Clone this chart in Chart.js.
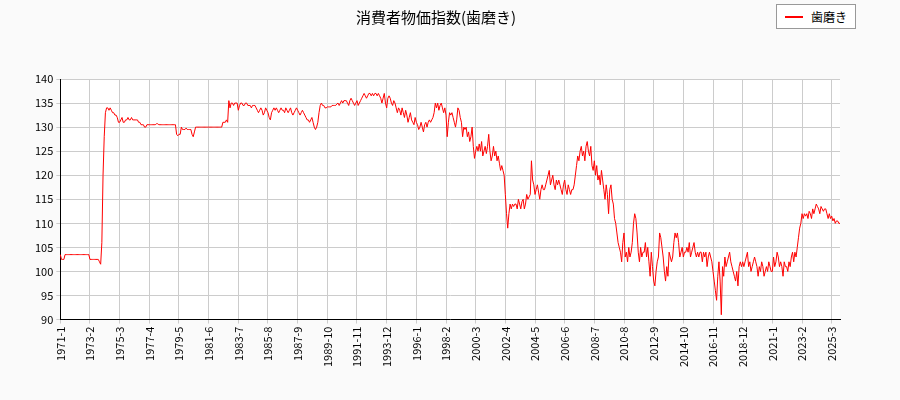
<!DOCTYPE html>
<html>
<head>
<meta charset="utf-8">
<script src="https://cdn.jsdelivr.net/npm/chart.js@4"></script>
<style>
  body { margin: 0; background: #fafafa; font-family: "Noto Sans CJK JP", "DejaVu Sans", sans-serif; }
  #wrap { position: relative; width: 900px; height: 400px; }
  #legend { position: absolute; top: 4px; right: 44px; border: 1px solid #999; background: #fff;
            font-size: 12px; padding: 3px 8px; display: flex; align-items: center; }
  #legend span.line { display: inline-block; width: 18px; height: 2px; background: red; margin-right: 8px; }
</style>
</head>
<body>
<div id="wrap">
  <canvas id="chart" width="900" height="400"></canvas>
  <div id="legend"><span class="line"></span>歯磨き</div>
</div>
<script>
const startYear = 1971;
const seriesName = '歯磨き';
const yTicks = [90, 95, 100, 105, 110, 115, 120, 125, 130, 135, 140];
// monthly index values, 1971-1 onwards
const toothpaste = [
  103.5,102.5,102.5,102.5,103.5,103.5,103.5,103.5,103.5,103.5,103.5,103.5,
  103.5,103.5,103.5,103.5,103.5,103.5,103.5,103.5,103.5,103.5,103.5,103.5,
  103.5,102.5,102.5,102.5,102.5,102.5,102.5,102.5,102.5,102,101.5,106,
  120,128,133,134,134,133.5,134,133.5,133,133,132.5,132.5,
  132,131,131,131.5,132,131,131,131.5,131.5,132,131.5,131.5,
  132,131.5,131.5,131.5,131.5,131.5,131,131,130.5,130.5,130.5,130,
  130,130.5,130.5,130.5,130.5,130.5,130.5,130.5,130.5,130.7,130.7,130.5,
  130.5,130.5,130.5,130.5,130.5,130.5,130.5,130.5,130.5,130.5,130.5,130.5,
  130.5,130.5,128.5,128.2,128.5,128.5,130,129.5,129.5,129.5,129.8,129.5,
  129.5,129.5,129.5,128.5,128,129,130,130,130,130,130,130,
  130,130,130,130,130,130,130,130,130,130,130,130,
  130,130,130,130,130,131,131,131,131.5,131,135.5,134,
  135,135,134.5,135,135,135,133.5,134.5,135,135,134.5,134.5,
  135,135,134.5,134.5,134.5,134,134.5,134.5,134.5,134,133.5,133,
  133.5,134,133.5,132.5,133,134,133.5,133,132,131.5,133,133.5,
  134,133.5,134,133.5,133,133.5,134,133.5,133.5,133,134,133.5,
  133,133.5,134,133,132.5,133,133.5,134,133.5,133,132.5,133,
  133.5,133,132.5,132,131.5,131.5,131,131.5,132,131,130,129.5,
  130,131,133,134.5,135,134.5,134.5,134,134,134.2,134.2,134.2,
  134.2,134.5,134.5,134.5,134.5,134.8,135,134.5,135,135.5,135,135.5,
  135.5,135.5,135,134.5,135.5,136,135.5,135,134.5,135,135.5,134.5,
  135,135.5,136,136.5,137,136.5,136,136.5,137,137,136.5,137,
  136.5,137,137,136.5,137,136.5,136,135,136,137,135,134,
  136,136.5,136,135,134.5,135.5,135,134,133,134,133.5,132.5,
  134,133,132,133.5,132.5,131,132,133,131.5,131,130.5,132,
  131,130.5,129.5,130,131,130,129,130.5,131,130,131,131.5,
  131,131.5,132,133,135,134,135,133.5,134.5,135,134,133,
  134,132.5,128,131,133,132.5,133,132,131,130,131.5,134,
  133.5,132,131,128,130,129.5,130,128,129,127,128,130,
  126,123.5,125,126,125,126.5,125,127,124,125,126,124.5,
  126,128.5,125,123,124,126,124,125,123,124,122.5,121,
  122,121,120,116,112,109,112,114,113,114,113.5,114,
  114,113,115,114,113,114.5,115,113,114,116,115,115.5,
  116,123,119,118,116,117,118,116.5,115,117,118,117,
  117,118,119,120,121,118,119,120,118,117,119,118,
  119,118,117,116,118,119,117,116,118,117,116,117,
  117,118,120,122,124,123,125,126,124,125,123,126,
  127,125,124,126,122,121,123,120,122,119,120,118,
  121,119,117,115,118,116,112,117,118,115,114,111,
  110,108,106,105,104,102,106,108,103,104,102,105,
  103,104,106,110,112,111,108,104,102,105,103,104,
  104,106,103,105,102,99,104,101,98,97,100,102,
  103,108,107,105,103,100,98,101,99,104,103,102,
  103,106,108,107,108,106,103,104,105,103,104,104,
  105,104,106,103,104,105,106,104,103,104,103,104,
  104,102,104,103,104,101,103,104,103,102,100,98,
  96,94,99,102,98,91,101,99,103,101,102,103,
  104,102,101,100,99,98,100,97,101,102,101,102,
  101,102,103,104,101,102,100,101,102,103,102,101,
  99,101,100,102,101,99,100,101,100,102,101,100,
  100,103,101,102,104,103,101,102,101,99,102,101,
  101,100,102,101,103,104,102,104,103,105,107,109,
  110,112,111,112,111.5,112,111,112.5,112,111,113,112,
  113,114,113.5,113,112,113.5,113,112.5,113,113,112,111,
  112,111,111.5,110.5,111,110,110.5,110.5,110,110
];

const labels = toothpaste.map((v, i) => `${startYear + Math.floor(i / 12)}-${(i % 12) + 1}`);

const plotBg = {
  id: 'plotBg',
  beforeDraw(chart) {
    const { ctx, chartArea: a } = chart;
    ctx.save();
    ctx.fillStyle = '#ffffff';
    ctx.fillRect(a.left, a.top, a.right - a.left, a.bottom - a.top);
    ctx.restore();
  }
};

Chart.defaults.font.family = '"Noto Sans CJK JP", "DejaVu Sans", sans-serif';
Chart.defaults.color = '#000';

new Chart(document.getElementById('chart'), {
  type: 'line',
  data: {
    labels: labels,
    datasets: [{
      label: seriesName,
      data: toothpaste,
      borderColor: '#ff0000',
      borderWidth: 1,
      pointRadius: 0,
      tension: 0
    }]
  },
  options: {
    responsive: false,
    animation: false,
    layout: { padding: { left: 32, right: 60, top: 0, bottom: 30 } },
    plugins: {
      legend: { display: false },
      tooltip: { enabled: false },
      title: {
        display: true,
        text: '消費者物価指数(歯磨き)',
        font: { size: 15, weight: 'normal' },
        padding: { top: 8, bottom: 53 }
      }
    },
    scales: {
      x: {
        offset: false,
        grid: { color: '#cccccc', drawTicks: true, tickLength: 4 },
        border: { color: '#000' },
        ticks: {
          autoSkip: false,
          maxRotation: 90,
          minRotation: 90,
          font: { size: 11 },
          callback: function(val, i) { return i % 25 === 0 ? labels[i] : null; }
        }
      },
      y: {
        min: 90,
        max: 140,
        afterBuildTicks: axis => { axis.ticks = yTicks.map(v => ({ value: v })); },
        grid: { color: '#cccccc', tickLength: 4 },
        border: { color: '#000' },
        ticks: { font: { size: 11 } }
      }
    }
  },
  plugins: [plotBg]
});
</script>
</body>
</html>
